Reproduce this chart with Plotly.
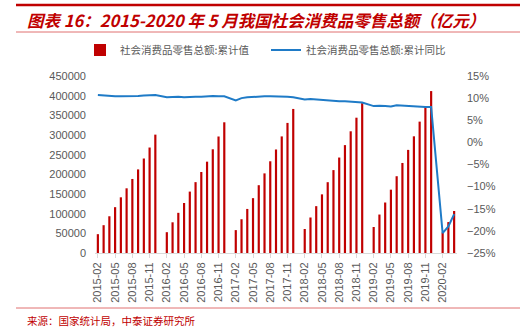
import plotly.graph_objects as go

months = []
for y in range(2015, 2021):
    for m in range(1, 13):
        if (y == 2015 and m == 1) or (y == 2020 and m > 4):
            continue
        months.append(f"{y}-{m:02d}")

# cumulative retail sales (亿元), Feb..Dec per year (Jan is not published)
val_2015 = [47878, 70715, 93406, 116530, 141577, 164467, 188230, 212539, 240225, 268167, 300931]
val_2016 = [52910, 78024, 102127, 127151, 156138, 180164, 206004, 232213, 263672, 296200, 332316]
val_2017 = [58191, 85823, 112038, 139460, 172369, 202413, 233180, 263178, 296427, 330713, 366262]
val_2018 = [61082, 90275, 119122, 149082, 180018, 210752, 242721, 274299, 309440, 344000, 380987]
val_2019 = [66064, 97790, 128376, 160990, 195210, 228910, 262179, 296674, 334017, 372872, 411649]
val_2020 = [52130, 78580, 106758]

yoy_2015 = [10.7, 10.6, 10.4, 10.4, 10.4, 10.4, 10.5, 10.5, 10.6, 10.6, 10.7]
yoy_2016 = [10.2, 10.3, 10.3, 10.2, 10.3, 10.3, 10.3, 10.4, 10.5, 10.4, 10.4]
yoy_2017 = [9.5, 10.0, 10.2, 10.3, 10.4, 10.4, 10.4, 10.4, 10.3, 10.3, 10.2]
yoy_2018 = [9.7, 9.8, 9.7, 9.5, 9.4, 9.3, 9.3, 9.3, 9.2, 9.1, 9.0]
yoy_2019 = [8.2, 8.3, 8.2, 8.1, 8.4, 8.3, 8.2, 8.2, 8.1, 8.0, 8.0]
yoy_2020 = [-20.5, -19.0, -16.2]

values, yoy = [], []
for i, (v, r) in enumerate([(val_2015, yoy_2015), (val_2016, yoy_2016), (val_2017, yoy_2017),
                             (val_2018, yoy_2018), (val_2019, yoy_2019), (val_2020, yoy_2020)]):
    if i > 0:
        values.append(None)
        yoy.append(None)
    values += v
    yoy += r

tick_labels = months[::3]

RED = "#C00000"
BLUE = "#1F7BC7"
GRAY = "#595959"
FONT = "Noto Sans CJK SC"

fig = go.Figure()
fig.add_trace(go.Bar(x=months, y=values, name="社会消费品零售总额:累计值",
                     marker=dict(color=RED, line=dict(width=0)), width=0.38, legend="legend"))
fig.add_trace(go.Scatter(x=months, y=yoy, name="社会消费品零售总额:累计同比", yaxis="y2",
                         mode="lines", line=dict(color=BLUE, width=2), connectgaps=True,
                         legend="legend2"))

PH = 177.0
PW = 362.0


def py(pix):
    return (253 - pix) / PH


def px(pix):
    return (pix - 95) / PW


leg_common = dict(orientation="h", xanchor="left", y=py(50), yanchor="middle",
                  font=dict(size=10.5, color=GRAY), bgcolor="rgba(0,0,0,0)")

fig.update_layout(
    width=527, height=328,
    margin=dict(l=95, r=70, t=76, b=75, autoexpand=False),
    paper_bgcolor="white", plot_bgcolor="white",
    font=dict(family=FONT, size=11, color=GRAY),
    showlegend=True,
    legend=dict(x=px(80), **leg_common),
    legend2=dict(x=px(266), **leg_common),
    xaxis=dict(type="category", tickmode="array", tickvals=tick_labels, ticktext=tick_labels,
               tickangle=-90, showline=True, linecolor="#D9D9D9", ticks="outside",
               tickcolor="#D9D9D9", ticklen=4, showgrid=False,
               tickfont=dict(family="Liberation Sans", size=11, color=GRAY)),
    yaxis=dict(range=[0, 450000], dtick=50000, showgrid=False, zeroline=False,
               tickformat="d", ticklabelstandoff=8,
               tickfont=dict(family="Liberation Sans", size=11, color=GRAY)),
    yaxis2=dict(range=[-25, 15], dtick=5, overlaying="y", side="right", showgrid=False,
                zeroline=False, ticksuffix="%", ticklabelstandoff=9,
                tickfont=dict(family="Liberation Sans", size=11, color=GRAY)),
)

fig.update_layout(shapes=[
    dict(type="line", xref="paper", yref="paper", x0=px(16), x1=px(520),
         y0=py(5), y1=py(5), line=dict(color=RED, width=2.5)),
    dict(type="line", xref="paper", yref="paper", x0=px(16), x1=px(520),
         y0=py(32), y1=py(32), line=dict(color="#E07070", width=1)),
    dict(type="line", xref="paper", yref="paper", x0=px(16), x1=px(520),
         y0=py(308), y1=py(308), line=dict(color="#E07070", width=1)),
])

fig.add_annotation(text="<i><b>图表 16：2015-2020 年 5 月我国社会消费品零售总额（亿元）</b></i>",
                   xref="paper", yref="paper", x=px(25), y=py(20),
                   xanchor="left", yanchor="middle", showarrow=False,
                   font=dict(family=FONT, size=16.5, color=RED))
fig.add_annotation(text="来源：国家统计局，中泰证券研究所",
                   xref="paper", yref="paper", x=px(25), y=py(320),
                   xanchor="left", yanchor="middle", showarrow=False,
                   font=dict(family=FONT, size=10.5, color=RED))

fig.write_html("out.html")
